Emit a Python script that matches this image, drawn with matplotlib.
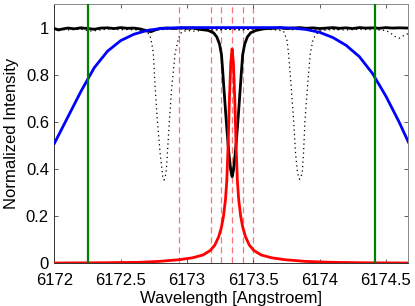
import numpy as np
import matplotlib.pyplot as plt

plt.rcParams['font.family'] = ['Liberation Sans', 'DejaVu Sans']

# broad prefilter transmission (blue)
blue_x = [6172.0, 6172.1, 6172.2, 6172.3, 6172.4, 6172.5, 6172.6, 6172.7, 6172.8, 6172.9,
          6173.0, 6173.7, 6173.8, 6173.9, 6174.0, 6174.1, 6174.2, 6174.3, 6174.4, 6174.5,
          6174.6, 6174.67]
blue_y = [0.51, 0.62, 0.73, 0.83, 0.90, 0.945, 0.972, 0.988, 0.996, 0.999,
          1.0, 1.0, 0.998, 0.992, 0.98, 0.958, 0.925, 0.877, 0.805, 0.71,
          0.60, 0.515]

# observed line profile (solid black)
line_x = [6172.00, 6172.03, 6172.06, 6172.10, 6172.15, 6172.20, 6172.25, 6172.30, 6172.35,
          6172.40, 6172.45, 6172.50, 6172.55, 6172.60, 6172.65, 6172.70, 6172.73, 6172.76,
          6172.80, 6172.85, 6172.90, 6172.95, 6173.00, 6173.05, 6173.09, 6173.16, 6173.20,
          6173.225, 6173.245, 6173.26, 6173.27, 6173.28, 6173.29, 6173.30, 6173.31, 6173.32,
          6173.33, 6173.34, 6173.35, 6173.36, 6173.37, 6173.38, 6173.39, 6173.40, 6173.41,
          6173.42, 6173.435, 6173.455, 6173.48, 6173.52, 6173.58, 6173.65, 6173.70, 6173.75,
          6173.80, 6173.85, 6173.90, 6173.95, 6174.00, 6174.05, 6174.10, 6174.15, 6174.20,
          6174.25, 6174.30, 6174.35, 6174.40, 6174.45, 6174.50, 6174.55, 6174.60, 6174.67]
line_y = [0.996, 0.990, 0.994, 0.998, 0.995, 0.999, 0.996, 0.993, 0.998,
          0.999, 0.996, 1.000, 0.997, 0.998, 0.994, 0.985, 0.983, 0.990,
          0.997, 0.998, 0.996, 0.999, 0.997, 0.998, 0.993, 0.988, 0.978,
          0.96, 0.93, 0.885, 0.81, 0.73, 0.65, 0.575, 0.505, 0.445,
          0.395, 0.368, 0.395, 0.445, 0.505, 0.575, 0.65, 0.73, 0.81,
          0.885, 0.93, 0.96, 0.978, 0.988, 0.995, 0.997, 0.999, 0.996,
          0.998, 1.0, 0.997, 0.999, 0.996, 0.998, 1.0, 0.997, 0.999,
          0.996, 1.0, 0.998, 0.999, 0.997, 1.0, 0.998, 0.999, 0.998]

# line profile shifted to the blue (dotted)
blue_shift_x = [6172.00, 6172.10, 6172.20, 6172.28, 6172.32, 6172.40, 6172.50, 6172.60, 6172.66,
                6172.70, 6172.72, 6172.735, 6172.746, 6172.759, 6172.776, 6172.797, 6172.817,
                6172.827, 6172.842, 6172.852, 6172.867, 6172.885, 6172.91, 6172.935, 6172.96,
                6173.00, 6173.05, 6173.10, 6173.15, 6173.20, 6173.30, 6173.40, 6173.50, 6173.60,
                6173.70, 6173.80, 6173.90, 6174.00, 6174.08, 6174.15]
blue_shift_y = [0.995, 0.990, 0.993, 0.985, 0.988, 0.994, 0.991, 0.993, 0.988,
                0.980, 0.968, 0.93, 0.89, 0.75, 0.608, 0.467, 0.368,
                0.354, 0.382, 0.467, 0.608, 0.75, 0.89, 0.954, 0.982,
                0.988, 0.985, 0.987, 0.991, 0.989, 0.993, 0.990, 0.994, 0.992,
                0.995, 0.991, 0.993, 0.990, 0.994, 0.992]

# line profile shifted to the red (dotted)
red_shift_x = [6172.51, 6172.60, 6172.70, 6172.80, 6172.90, 6173.00, 6173.10, 6173.20, 6173.30,
               6173.40, 6173.50, 6173.60, 6173.68, 6173.728, 6173.754, 6173.766, 6173.786,
               6173.804, 6173.819, 6173.834, 6173.849, 6173.869, 6173.879, 6173.89, 6173.909,
               6173.93, 6173.95, 6173.968, 6174.00, 6174.05, 6174.10, 6174.20, 6174.30, 6174.40,
               6174.50, 6174.54, 6174.57, 6174.60, 6174.63, 6174.67]
red_shift_y = [0.994, 0.990, 0.993, 0.991, 0.995, 0.992, 0.994, 0.990, 0.993,
               0.991, 0.994, 0.993, 0.990, 0.985, 0.947, 0.89, 0.75,
               0.608, 0.467, 0.382, 0.357, 0.382, 0.467, 0.608, 0.75,
               0.89, 0.947, 0.968, 0.985, 0.990, 0.992, 0.990, 0.993, 0.991,
               0.988, 0.975, 0.962, 0.955, 0.965, 0.975]

# narrow filter transmission (red)
filt_x = [6172.00, 6172.34, 6172.64, 6172.79, 6172.94, 6173.04, 6173.12, 6173.175, 6173.21,
          6173.24, 6173.26, 6173.275, 6173.29, 6173.30, 6173.31, 6173.32, 6173.33, 6173.34,
          6173.35, 6173.36, 6173.37, 6173.38, 6173.39, 6173.405, 6173.42, 6173.44,
          6173.47, 6173.505, 6173.56, 6173.64, 6173.74, 6173.89, 6174.09, 6174.34, 6174.67]
filt_y = [0.002, 0.003, 0.005, 0.009, 0.016, 0.024, 0.036, 0.055, 0.078,
          0.115, 0.155, 0.20, 0.27, 0.35, 0.50, 0.70, 0.85, 0.91,
          0.85, 0.70, 0.50, 0.35, 0.27, 0.20, 0.155, 0.115,
          0.078, 0.055, 0.036, 0.024, 0.016, 0.009, 0.005, 0.003, 0.002]

# filter tuning positions and prefilter limits
tune_pos = [6172.94, 6173.18, 6173.26, 6173.34, 6173.42, 6173.50]
limits = [6172.25, 6174.42]

xticks = [6172, 6172.5, 6173, 6173.5, 6174, 6174.5]
xtick_labels = ['6172', '6172.5', '6173', '6173.5', '6174', '6174.5']
yticks = [0, 0.2, 0.4, 0.6, 0.8, 1.0]
ytick_labels = ['0', '0.2', '0.4', '0.6', '0.8', '1']

fig = plt.figure(figsize=(4.15, 3.06), dpi=100)
ax = fig.add_axes([0.1313, 0.1389, 0.8527, 0.848])

for p in tune_pos:
    ax.axvline(p, color=(1.0, 0.45, 0.45), lw=0.9, linestyle=(0, (5, 3)), zorder=1)

ax.plot(blue_shift_x, blue_shift_y, color='k', lw=0.9, linestyle=(0, (1, 2.6)), zorder=2)
ax.plot(red_shift_x, red_shift_y, color='k', lw=0.9, linestyle=(0, (1, 2.6)), zorder=2)
ax.plot(line_x, line_y, color='k', lw=2.0, zorder=3)
ax.plot(blue_x, blue_y, color='#0000ff', lw=2.0, zorder=4)
ax.plot(filt_x, filt_y, color='#ff0000', lw=2.0, zorder=5)
for p in limits:
    ax.axvline(p, color='#008000', lw=1.6, zorder=6)

ax.set_xlim(6172, 6174.67)
ax.set_ylim(0, 1.1)
ax.set_xticks(xticks)
ax.set_xticklabels(xtick_labels)
ax.set_yticks(yticks)
ax.set_yticklabels(ytick_labels)
ax.tick_params(direction='in', length=3, width=0.6, top=True, right=True,
               labelsize=12, pad=4, color='#444444')
ax.tick_params(axis='x', pad=7)
ax.set_xlabel('Wavelength [Angstroem]', fontsize=12, labelpad=2)
ax.set_ylabel('Normalized Intensity', fontsize=12, labelpad=5)
for s in ['top', 'right']:
    ax.spines[s].set_color('#888888')
for s in ['left', 'bottom']:
    ax.spines[s].set_color('#333333')
for s in ax.spines.values():
    s.set_linewidth(0.7)

fig.savefig('out.png', dpi=100)
